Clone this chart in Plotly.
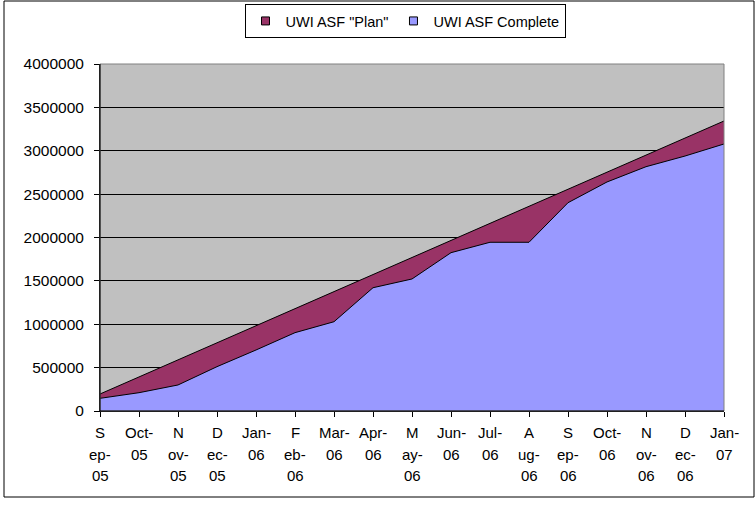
import plotly.graph_objects as go

months = ["Sep-05", "Oct-05", "Nov-05", "Dec-05", "Jan-06", "Feb-06", "Mar-06", "Apr-06",
          "May-06", "Jun-06", "Jul-06", "Aug-06", "Sep-06", "Oct-06", "Nov-06", "Dec-06", "Jan-07"]
month_labels = ["S|ep-|05", "Oct-|05", "N|ov-|05", "D|ec-|05", "Jan-|06", "F|eb-|06", "Mar-|06",
                "Apr-|06", "M|ay-|06", "Jun-|06", "Jul-|06", "A|ug-|06", "S|ep-|06", "Oct-|06",
                "N|ov-|06", "D|ec-|06", "Jan-|07"]
plan = [196000, 393000, 589000, 786000, 983000, 1179000, 1376000, 1573000, 1769000,
        1966000, 2163000, 2360000, 2556000, 2753000, 2950000, 3146000, 3343000]
complete = [146000, 211000, 300000, 511000, 703000, 903000, 1029000, 1421000, 1522000,
            1825000, 1945000, 1945000, 2401000, 2640000, 2816000, 2939000, 3078000]
y_ticks = [0, 500000, 1000000, 1500000, 2000000, 2500000, 3000000, 3500000, 4000000]

PLAN_C = "#993366"
COMP_C = "#9999FF"
FONT = "Liberation Sans, Arial, sans-serif"

W, H = 756, 506
L, T, R, B = 100, 64, 32, 95
PW, PH = W - L - R, H - T - B

fig = go.Figure()
fig.add_trace(go.Scatter(x=months, y=plan, mode="lines", fill="tozeroy",
                         fillcolor=PLAN_C, line=dict(color="black", width=1),
                         showlegend=False, hoverinfo="skip"))
fig.add_trace(go.Scatter(x=months, y=complete, mode="lines", fill="tozeroy",
                         fillcolor=COMP_C, line=dict(color="black", width=1),
                         showlegend=False, hoverinfo="skip"))
# legend entries
fig.add_trace(go.Scatter(x=[None], y=[None], mode="markers", name='UWI ASF "Plan"',
                         marker=dict(symbol="square", size=8, color=PLAN_C,
                                     line=dict(color="black", width=1))))
fig.add_trace(go.Scatter(x=[None], y=[None], mode="markers", name="UWI ASF Complete",
                         marker=dict(symbol="square", size=8, color=COMP_C,
                                     line=dict(color="black", width=1))))

annotations = []
for m, lab in zip(months, month_labels):
    for i, part in enumerate(lab.split("|")):
        annotations.append(dict(x=m, y=0, xref="x", yref="paper", text=part,
                                showarrow=False, yanchor="top", xanchor="center",
                                yshift=-11 - i * 21.7,
                                font=dict(family=FONT, size=15, color="black")))

fig.update_layout(
    width=W, height=H,
    margin=dict(l=L, r=R, t=T, b=B),
    paper_bgcolor="white",
    plot_bgcolor="#C0C0C0",
    font=dict(family=FONT, size=15, color="black"),
    showlegend=True,
    legend=dict(orientation="h", xref="container", yref="container",
                x=405 / W, xanchor="center", y=1 - 4 / H, yanchor="top",
                bordercolor="black", borderwidth=1, bgcolor="white",
                font=dict(family=FONT, size=14.5), itemwidth=30,
                tracegroupgap=0),
    xaxis=dict(type="category", categoryorder="array", categoryarray=months,
               range=[0, len(months) - 1], showticklabels=False, automargin=False,
               ticks="outside", ticklen=5, tickcolor="black", showgrid=False,
               showline=True, linecolor="black", linewidth=1, zeroline=False),
    yaxis=dict(range=[0, 4000000], tickvals=y_ticks, ticktext=[str(v) for v in y_ticks],
               ticks="outside", ticklen=5, tickcolor="black", ticklabelstandoff=7,
               showgrid=True, gridcolor="black", gridwidth=1, automargin=False,
               showline=True, linecolor="black", linewidth=1, zeroline=False,
               tickfont=dict(family=FONT, size=15.5)),
    annotations=annotations,
    shapes=[
        dict(type="rect", xref="paper", yref="paper", x0=0, x1=1, y0=0, y1=1,
             line=dict(color="#808080", width=1), layer="above"),
        dict(type="line", xref="paper", yref="paper", x0=0, x1=0, y0=0, y1=1,
             line=dict(color="black", width=1), layer="above"),
        dict(type="line", xref="paper", yref="paper", x0=0, x1=1, y0=0, y1=0,
             line=dict(color="black", width=1), layer="above"),
        dict(type="rect", xref="paper", yref="paper",
             x0=(4 - L) / PW, x1=(754 - L) / PW,
             y0=(H - B - 497) / PH, y1=(H - B - 1) / PH,
             line=dict(color="black", width=1), layer="above"),
    ],
)

fig.write_html("out.html", config={"displayModeBar": False},
               post_script="document.body.style.margin='0';document.body.style.overflow='hidden';")
